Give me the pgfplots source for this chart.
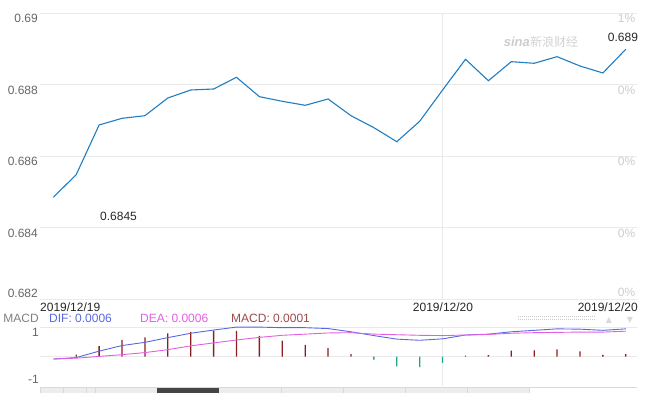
\documentclass[border=0pt]{standalone}
\usepackage{pgfplots}
\pgfplotsset{compat=1.18}
\usepackage{fontspec}
\setmainfont{Liberation Sans}
\newfontfamily\cjk{Noto Sans CJK SC}
\newfontfamily\dejavu{DejaVu Sans}
\definecolor{lineblue}{HTML}{1F7DC2}
\definecolor{difc}{HTML}{5A68E0}
\definecolor{deac}{HTML}{E45EE4}
\definecolor{barred}{HTML}{8B1E1E}
\definecolor{barteal}{HTML}{20A58A}
\definecolor{gridc}{HTML}{EAEAEA}
\definecolor{labgray}{HTML}{666666}
\definecolor{rlab}{HTML}{CCCCCC}
\definecolor{macdtxt}{HTML}{A04848}
\newcommand{\fs}{\fontsize{12}{14}\selectfont}
\begin{document}
\begin{tikzpicture}[x=1pt,y=1pt]
\useasboundingbox (0,0) rectangle (671,393);
% ---------------- main price axis
\begin{axis}[at={(40pt,94pt)}, anchor=south west, width=597pt, height=286pt, scale only axis,
  xmin=-0.581, xmax=25.49, ymin=0.682, ymax=0.69,
  ytick={0.684,0.686,0.688,0.69}, yticklabels={0.684,0.686,0.688,0.69},
  extra y ticks={0.682}, extra y tick labels={0.682},
  extra y tick style={ymajorgrids, grid style={gridc, line width=0.8pt}, yticklabel style={anchor=south east, yshift=2pt}},
  ymajorgrids, grid style={gridc, line width=0.8pt},
  xtick=\empty, extra x ticks={17}, extra x tick labels={}, extra x tick style={xmajorgrids, grid style={gridc, line width=0.8pt}},
  axis line style={draw=none}, major tick length=0pt,
  /pgf/number format/assume math mode=true,
  yticklabel style={anchor=north east, font=\fs, text=labgray, inner sep=0pt, xshift=-2pt, yshift=-1pt},
  clip=false]
\addplot[lineblue, line width=1.1pt] coordinates {
(0,0.684845) (1,0.685477) (2,0.686867) (3,0.687054) (4,0.687127) (5,0.687622)
(6,0.687846) (7,0.687874) (8,0.688201) (9,0.687659) (10,0.68753) (11,0.687418)
(12,0.687594) (13,0.687127) (14,0.686792) (15,0.6864) (16,0.686971) (17,0.687846)
(18,0.688705) (19,0.688106) (20,0.688638) (21,0.688593) (22,0.688778) (23,0.688517)
(24,0.688322) (25,0.688985)};
\node[anchor=west, inner sep=0pt, font=\fs, text=black!85] at (axis cs:0,0.684845) [xshift=46.7pt, yshift=-19.4pt] {0.6845};
\node[anchor=west, inner sep=0pt, font=\fs, text=black!85] at (axis cs:25,0.688985) [xshift=-18pt, yshift=11.6pt] {0.689};
\foreach \v/\t in {0.69/1\%,0.688/0\%,0.686/0\%,0.684/0\%}{
  \edef\tmp{\noexpand\node[anchor=north east, inner sep=0pt, font=\noexpand\fs, text=rlab] at (axis cs:25.49,\v) [xshift=-1.5pt, yshift=-1pt] {\t};}
  \tmp
}
\node[anchor=south east, inner sep=0pt, font=\fs, text=rlab] at (axis cs:25.49,0.682) [xshift=-1.5pt, yshift=2pt] {0\%};
\end{axis}
% ---------------- MACD axis
\begin{axis}[at={(40pt,7pt)}, anchor=south west, width=597pt, height=58.6pt, scale only axis,
  xmin=-0.581, xmax=25.49, ymin=-1, ymax=1,
  ytick={0,1}, yticklabels={}, ymajorgrids, grid style={gridc, line width=0.8pt},
  xtick=\empty, extra x ticks={17}, extra x tick labels={}, extra x tick style={xmajorgrids, grid style={gridc, line width=0.8pt}},
  axis line style={draw=none}, major tick length=0pt, clip=false]
\addplot[ybar, bar width=1.3pt, bar shift=0pt, fill=barred, draw=none] coordinates {
(1,0.07) (2,0.36) (3,0.57) (4,0.66) (5,0.80) (6,0.85) (7,0.89) (8,0.88) (9,0.71)
(10,0.55) (11,0.40) (12,0.29) (13,0.09) (18,0.04) (19,0.05) (20,0.21) (21,0.22)
(22,0.25) (23,0.18) (24,0.06) (25,0.09)};
\addplot[ybar, bar width=1.3pt, bar shift=0pt, fill=barteal, draw=none] coordinates {
(14,-0.10) (15,-0.33) (16,-0.36) (17,-0.21)};
\addplot[difc, line width=0.9pt] coordinates {
(0,-0.08) (1,-0.03) (2,0.19) (3,0.38) (4,0.49) (5,0.65) (6,0.80) (7,0.91) (8,1.01)
(9,1.01) (10,0.99) (11,0.99) (12,0.96) (13,0.85) (14,0.72) (15,0.60) (16,0.56)
(17,0.61) (18,0.74) (19,0.77) (20,0.85) (21,0.90) (22,0.95) (23,0.94) (24,0.90) (25,0.95)};
\addplot[deac, line width=0.9pt] coordinates {
(0,-0.08) (1,-0.05) (2,0.01) (3,0.07) (4,0.14) (5,0.24) (6,0.37) (7,0.47) (8,0.57)
(9,0.66) (10,0.73) (11,0.77) (12,0.81) (13,0.82) (14,0.77) (15,0.75) (16,0.73)
(17,0.72) (18,0.74) (19,0.76) (20,0.80) (21,0.82) (22,0.83) (23,0.84) (24,0.84) (25,0.87)};
\end{axis}
% ---------------- texts
\node[anchor=east, inner sep=0pt, font=\fs, text=labgray] at (39,60.5) {1};
\node[anchor=east, inner sep=0pt, font=\fs, text=labgray] at (39,13.7) {-1};
\node[anchor=west, inner sep=0pt, font=\fs, text=black!85] at (40,86) {2019/12/19};
\node[inner sep=0pt, font=\fs, text=black!85] at (443,86) {2019/12/20};
\node[anchor=east, inner sep=0pt, font=\fs, text=black!85] at (638,86) {2019/12/20};
\node[anchor=east, inner sep=0pt, font=\fs, text=black!50] at (39,75) {MACD};
\node[anchor=west, inner sep=0pt, font=\fs, text=difc] at (49,75) {DIF: 0.0006};
\node[anchor=west, inner sep=0pt, font=\fs, text=deac] at (140,75) {DEA: 0.0006};
\node[anchor=west, inner sep=0pt, font=\fs, text=macdtxt] at (231,75) {MACD: 0.0001};
% watermark
\node[anchor=east, inner sep=0pt, font=\fontsize{13}{14}\selectfont\bfseries\itshape, text=black!20] at (530,351) {sina};
\node[anchor=west, inner sep=0pt, font=\cjk\fontsize{12}{14}\selectfont, text=black!18] at (530,351) {新浪财经};
% small controls
\draw[black!20, line width=1pt, dash pattern=on 1pt off 1pt] (518,76.3) -- (596,76.3);
\draw[black!20, line width=1pt, dash pattern=on 1pt off 1pt] (518,73) -- (596,73);
\node[inner sep=0pt, font=\dejavu\fontsize{8}{9}\selectfont, text=black!15] at (609,72.5) {▲};
\node[inner sep=0pt, font=\dejavu\fontsize{8}{9}\selectfont, text=black!15] at (630,72.5) {▼};
% scrollbar
\fill[black!7] (40,0) rectangle (529,6);
\fill[black!73] (157,0) rectangle (219,6);
\draw[black!15, line width=0.8pt] (40,6) -- (637,6);
\foreach \xx in {40,63.3,86,95.7,281.7,343.3,405.7,467.3,529}{\draw[black!15, line width=0.8pt] (\xx,0) -- (\xx,6);}
\end{tikzpicture}
\end{document}
